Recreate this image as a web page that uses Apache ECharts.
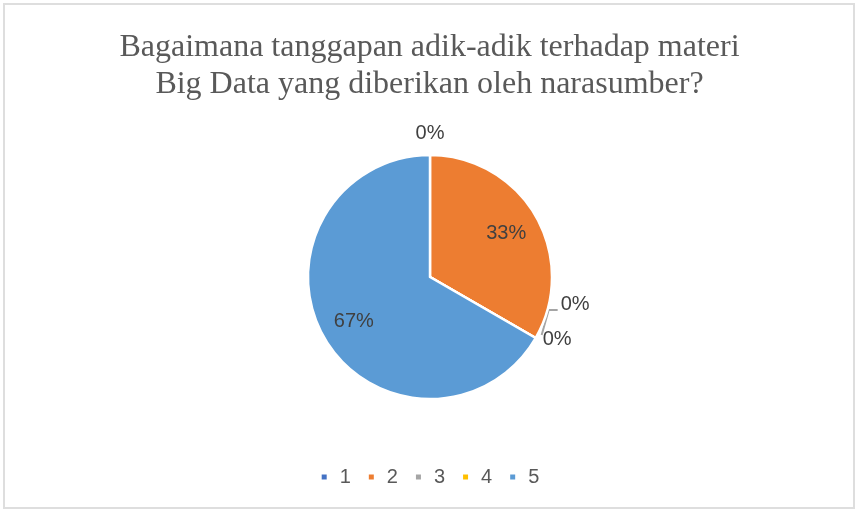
<!DOCTYPE html>
<html>
<head>
<meta charset="utf-8">
<script src="https://cdn.jsdelivr.net/npm/echarts@6/dist/echarts.min.js"></script>
<style>
html,body{margin:0;padding:0;background:#fff;}
#c{width:859px;height:513px;position:relative;}
#frame{position:absolute;left:3px;top:3px;width:852px;height:506px;border:2px solid #dedede;box-sizing:border-box;pointer-events:none;}
</style>
</head>
<body>
<div id="c"></div>
<div id="frame"></div>
<script>
const titleText = "Bagaimana tanggapan adik-adik terhadap materi\nBig Data yang diberikan oleh narasumber?";
const categories = ["1", "2", "3", "4", "5"];
const values = [0, 1, 0, 0, 2];
const colors = ["#4472C4", "#ED7D31", "#A5A5A5", "#FFC000", "#5B9BD5"];

const total = values.reduce((a, b) => a + b, 0);
const pct = v => Math.round(v / total * 100) + "%";

const chart = echarts.init(document.getElementById('c'));

const center = [430, 277];
const R = 122;

// start angle (clockwise from 12 o'clock) of each slice, from the data
function edgePoint(i) {
  let before = 0;
  for (let k = 0; k < i; k++) before += values[k];
  const a = before / total * Math.PI * 2;
  return [center[0] + R * Math.sin(a), center[1] - R * Math.cos(a)];
}

const labelFont = { fontFamily: 'Liberation Sans', fontSize: 20, color: '#404040' };

const mainData = categories.map((c, i) => {
  const d = { name: c, value: values[i], itemStyle: { color: colors[i] } };
  if (values[i] > 0) {
    d.label = { show: false };
    d.labelLine = { show: false };
  } else if (i === 2) {
    d.label = { show: true, position: 'outside' };
    d.labelLine = { show: true, length: 10, length2: 10, smooth: false, maxSurfaceAngle: 180, minTurnAngle: 0,
      lineStyle: { color: '#A5A5A5', width: 2 } };
  } else {
    d.label = { show: true, position: 'outside' };
    d.labelLine = { show: false };
  }
  return d;
});

const overlayData = categories.map((c, i) => ({
  name: c, value: values[i],
  itemStyle: { color: 'rgba(0,0,0,0)', borderWidth: 0 },
  label: { show: values[i] > 0 }
}));

chart.setOption({
  animation: false,
  title: {
    text: titleText,
    left: 'center',
    top: 24,
    textStyle: { fontFamily: 'Liberation Serif', fontSize: 32, fontWeight: 'normal', color: '#595959', lineHeight: 37 }
  },
  legend: {
    top: 462,
    left: 'center',
    data: categories,
    icon: 'rect',
    itemWidth: 7,
    itemHeight: 7,
    itemGap: 16,
    textStyle: { fontFamily: 'Liberation Sans', fontSize: 20, color: '#595959', padding: [0, 0, 0, 7] }
  },
  series: [
    {
      type: 'pie',
      center: center,
      radius: [0, R],
      startAngle: 90,
      clockwise: true,
      avoidLabelOverlap: false,
      stillShowZeroSum: true,
      itemStyle: { borderColor: '#fff', borderWidth: 2.5 },
      label: Object.assign({ formatter: p => pct(p.value) }, labelFont),
      labelLine: { maxSurfaceAngle: 180, minTurnAngle: 0 },
      labelLayout: function (p) {
        const i = p.dataIndex;
        if (values[i] > 0) return {};
        const e = edgePoint(i);
        if (i === 2) {
          return {
            x: e[0] + 25, y: e[1] - 34, align: 'left', verticalAlign: 'middle',
            labelLinePoints: [[e[0] + 6, e[1] - 3], [e[0] + 13, e[1] - 28], [e[0] + 22, e[1] - 28]]
          };
        }
        if (i === 3) {
          return { x: e[0] + 7, y: e[1] + 1, align: 'left', verticalAlign: 'middle' };
        }
        return { x: e[0], y: e[1] - 22, align: 'center', verticalAlign: 'middle' };
      },
      emphasis: { disabled: true },
      data: mainData
    },
    {
      type: 'pie',
      center: center,
      radius: [0, 170],
      startAngle: 90,
      clockwise: true,
      silent: true,
      legendHoverLink: false,
      label: Object.assign({ position: 'inside', formatter: p => pct(p.value) }, labelFont),
      labelLine: { show: false },
      emphasis: { disabled: true },
      data: overlayData
    }
  ]
});
</script>
</body>
</html>
